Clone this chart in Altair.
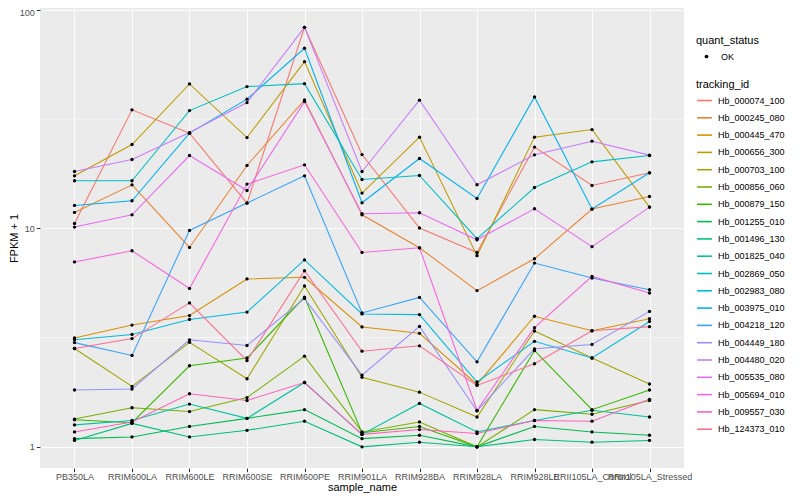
import altair as alt
import pandas as pd

samples = ["PB350LA", "RRIM600LA", "RRIM600LE", "RRIM600SE", "RRIM600PE", "RRIM901LA",
           "RRIM928BA", "RRIM928LA", "RRIM928LE", "RRII105LA_Control", "RRII105LA_Stressed"]

ids = ["Hb_000074_100", "Hb_000245_080", "Hb_000445_470", "Hb_000656_300", "Hb_000703_100",
       "Hb_000856_060", "Hb_000879_150", "Hb_001255_010", "Hb_001496_130", "Hb_001825_040",
       "Hb_002869_050", "Hb_002983_080", "Hb_003975_010", "Hb_004218_120", "Hb_004449_180",
       "Hb_004480_020", "Hb_005535_080", "Hb_005694_010", "Hb_009557_030", "Hb_124373_010"]

colors = ["#F8766D", "#EA8331", "#D89000", "#C09B00", "#A3A500", "#7CAE00", "#39B600", "#00BB4E",
          "#00BF7D", "#00C1A3", "#00BFC4", "#00BAE0", "#00B0F6", "#35A2FF", "#9590FF", "#C77CFF",
          "#E76BF3", "#FA62DB", "#FF62BC", "#FF6C91"]

# FPKM + 1 values, one list per tracking_id, in sample order
hb_000074_100 = [10.53, 34.89, 27.30, 13.06, 83.3, 21.78, 10.04, 7.76, 23.56, 15.72, 17.97]
hb_000245_080 = [11.83, 15.83, 8.18, 19.41, 38.76, 11.54, 8.15, 5.19, 7.26, 12.26, 14.00]
hb_000445_470 = [3.15, 3.61, 3.99, 5.87, 5.97, 3.54, 3.31, 1.93, 3.96, 3.40, 3.86]
hb_000656_300 = [17.41, 24.21, 45.87, 26.06, 58.0, 14.51, 26.17, 7.50, 26.17, 28.35, 12.52]
hb_000703_100 = [2.82, 1.89, 3.01, 2.05, 5.45, 2.08, 1.78, 1.37, 3.39, 2.55, 1.94]
hb_000856_060 = [1.34, 1.51, 1.45, 1.68, 2.60, 1.17, 1.30, 1.00, 1.48, 1.41, 1.63]
hb_000879_150 = [1.33, 1.29, 2.35, 2.55, 4.85, 1.16, 1.24, 1.00, 2.76, 1.48, 1.82]
hb_001255_010 = [1.09, 1.11, 1.24, 1.35, 1.48, 1.09, 1.13, 1.00, 1.24, 1.17, 1.13]
hb_001496_130 = [1.07, 1.28, 1.11, 1.19, 1.31, 1.00, 1.05, 1.00, 1.08, 1.05, 1.07]
hb_001825_040 = [1.26, 1.32, 1.57, 1.35, 1.97, 1.14, 1.58, 1.17, 1.32, 1.47, 1.37]
hb_002869_050 = [16.52, 16.52, 34.63, 44.6, 46.0, 16.75, 17.47, 8.97, 15.39, 20.17, 21.56]
hb_002983_080 = [3.09, 3.27, 3.83, 4.14, 7.17, 4.06, 4.03, 1.98, 3.04, 2.55, 3.75]
hb_003975_010 = [12.74, 13.38, 27.30, 39.05, 66.8, 13.10, 20.89, 13.71, 40.0, 12.26, 17.97]
hb_004218_120 = [3.00, 2.62, 9.79, 13.06, 17.41, 4.10, 4.83, 2.45, 6.94, 5.93, 5.24]
hb_004449_180 = [1.82, 1.84, 3.09, 2.91, 4.78, 2.13, 3.56, 1.46, 2.81, 2.94, 4.17]
hb_004480_020 = [18.22, 20.67, 27.47, 37.67, 83.3, 18.22, 38.64, 15.84, 21.72, 25.08, 21.65]
hb_005535_080 = [10.14, 11.54, 21.56, 14.91, 38.07, 11.67, 11.79, 8.87, 12.30, 8.25, 12.52]
hb_005694_010 = [7.02, 7.90, 5.31, 15.95, 19.55, 7.76, 8.15, 1.47, 3.51, 6.03, 5.06]
hb_009557_030 = [1.17, 1.30, 1.75, 1.63, 1.97, 1.14, 1.20, 1.15, 1.32, 1.31, 1.65]
hb_124373_010 = [2.82, 3.13, 4.56, 2.48, 6.40, 2.74, 2.90, 1.91, 2.40, 3.40, 3.55]

series = [hb_000074_100, hb_000245_080, hb_000445_470, hb_000656_300, hb_000703_100,
          hb_000856_060, hb_000879_150, hb_001255_010, hb_001496_130, hb_001825_040,
          hb_002869_050, hb_002983_080, hb_003975_010, hb_004218_120, hb_004449_180,
          hb_004480_020, hb_005535_080, hb_005694_010, hb_009557_030, hb_124373_010]

minor_breaks = [3.162, 31.62]
major_breaks = [1, 10, 100]

rows = []
for tid, vals in zip(ids, series):
    for s, v in zip(samples, vals):
        rows.append({"sample_name": s, "tracking_id": tid, "value": v, "quant_status": "OK"})
df = pd.DataFrame(rows)
minor_df = pd.DataFrame({"value": minor_breaks})

FONT = "Liberation Sans"

x_enc = alt.X("sample_name:N", sort=samples, title="sample_name",
              scale=alt.Scale(type="point", padding=0.6),
              axis=alt.Axis(labelAngle=0, labelOverlap=False, labelPadding=1,
                            titleY=19.5, titleBaseline="middle"))
y_scale = alt.Scale(type="log", domain=[0.80, 102.1], nice=False, zero=False)
y_enc = alt.Y("value:Q", title="FPKM + 1", scale=y_scale,
              axis=alt.Axis(values=major_breaks, format="~g", titleX=-26, titleY=230,
                            titleAlign="center", titleBaseline="middle", titleAngle=270,
                            labelFlush=3, labelFlushOffset=1.5))

minor = alt.Chart(minor_df).mark_rule(color="white", strokeWidth=0.55).encode(
    y=alt.Y("value:Q", title="FPKM + 1", scale=y_scale)
)

lines = alt.Chart(df).mark_line(strokeWidth=1.07).encode(
    x=x_enc,
    y=y_enc,
    color=alt.Color("tracking_id:N", scale=alt.Scale(domain=ids, range=colors),
                    legend=alt.Legend(orient="none", legendX=656, legendY=71, title="tracking_id",
                                      symbolType="stroke", symbolSize=220, symbolStrokeWidth=1.6,
                                      rowPadding=3.3, titlePadding=2, labelOffset=5)),
)

points = alt.Chart(df).mark_point(filled=True, color="black", size=11, opacity=1).encode(
    x=alt.X("sample_name:N", sort=samples),
    y=alt.Y("value:Q"),
    shape=alt.Shape("quant_status:N",
                    legend=alt.Legend(orient="none", legendX=656, legendY=27, title="quant_status",
                                      symbolSize=14, symbolFillColor="black", symbolStrokeColor="black",
                                      symbolOffset=6, labelOffset=10, titlePadding=6)),
)

chart = alt.layer(minor, lines, points).properties(
    width=644, height=460,
    autosize=alt.AutoSizeParams(type="none"),
    padding={"left": 32, "top": 0, "right": 108, "bottom": 26},
    background="white",
).configure_view(
    fill="#EBEBEB", stroke=None
).configure_axis(
    labelFont=FONT, titleFont=FONT, labelFontSize=9, labelColor="#4D4D4D",
    titleFontSize=11, titleFontWeight="normal", titleColor="black",
    tickColor="#333333", tickSize=3.7, tickWidth=1, labelPadding=2,
    domain=False, grid=True, gridColor="white", gridWidth=1.07,
).configure_legend(
    labelFont=FONT, titleFont=FONT, labelFontSize=9, labelColor="black",
    titleFontSize=11, titleFontWeight="normal", titleColor="black",
)

chart.save("out.html", embed_options={"renderer": "svg", "actions": False})
